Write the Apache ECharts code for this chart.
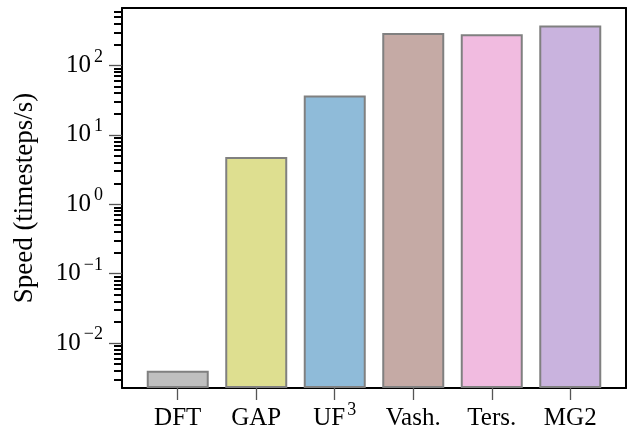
<!DOCTYPE html>
<html><head><meta charset="utf-8">
<script src="https://cdn.jsdelivr.net/npm/echarts@6/dist/echarts.min.js"></script>
<style>html,body{margin:0;padding:0;background:#fff}#c{width:628px;height:431px}</style>
</head><body><div id="c"></div>
<script>
const categories = ['DFT', 'GAP', 'UF3', 'Vash.', 'Ters.', 'MG2'];
const speeds = [0.004, 4.8, 37, 292, 282, 376];
const barColors = ['#bfbfbf', '#dedf90', '#8fbbd9', '#c5aaa5', '#f1bbe0', '#c9b3de'];
const majorTicks = [0.01, 0.1, 1, 10, 100];
const yMin = 0.00225, yMax = 672;
const minorTicks = [];
for (let d = -3; d <= 2; d++) for (let m = 2; m <= 9; m++) {
  const v = m * Math.pow(10, d);
  if (v > yMin && v < yMax) minorTicks.push(v);
}
const catIdx = categories.map((c, i) => i);
const F = "'Liberation Serif', 'Times New Roman', serif";

const chart = echarts.init(document.getElementById('c'), null, {renderer: 'canvas'});
const spine = {show: true, onZero: false, lineStyle: {color: '#000', width: 2}};
chart.setOption({
  animation: false,
  textStyle: {fontFamily: F},
  grid: {left: 122, right: 2, top: 8, bottom: 43, containLabel: false, outerBoundsMode: 'none'},
  xAxis: [{
    type: 'value', min: -0.71, max: 5.71, position: 'bottom',
    axisLine: spine, splitLine: {show: false},
    axisTick: {show: true, customValues: catIdx, length: 12, lineStyle: {color: '#555', width: 1.3}},
    axisLabel: {show: true, customValues: catIdx, margin: 9, fontFamily: F,
      formatter: v => { const c = categories[Math.round(v)]; return c === 'UF3' ? '{b|UF}{s|3}' : '{b|' + c + '}'; },
      rich: {b: {fontFamily: F, fontSize: 25, color: '#000', verticalAlign: 'middle', lineHeight: 43},
             s: {fontFamily: F, fontSize: 18, color: '#000', verticalAlign: 'middle', lineHeight: 26, padding: [0, 0, 17, 2]}}}
  }, {
    type: 'value', min: -0.71, max: 5.71, position: 'top',
    axisLine: spine, axisTick: {show: false}, axisLabel: {show: false}, splitLine: {show: false}
  }],
  yAxis: [{
    type: 'log', logBase: 10, min: yMin, max: yMax, position: 'left', startValue: yMin,
    axisLine: spine, splitLine: {show: false}, minorTick: {show: false},
    axisTick: {show: true, customValues: majorTicks, length: 13, lineStyle: {color: '#555', width: 1.3}},
    axisLabel: {show: true, customValues: majorTicks, margin: 19, fontFamily: F,
      formatter: v => { const e = Math.round(Math.log10(v)); return '{b|10}{s|' + (e < 0 ? '\u2212' + (-e) : e) + '}'; },
      rich: {b: {fontFamily: F, fontSize: 25, color: '#000', verticalAlign: 'middle', lineHeight: 26},
             s: {fontFamily: F, fontSize: 18, color: '#000', verticalAlign: 'middle', lineHeight: 26, padding: [0, 0, 17, 3]}}},
    name: 'Speed (timesteps/s)', nameLocation: 'middle', nameGap: 84,
    nameTextStyle: {fontFamily: F, fontSize: 27, color: '#000'}
  }, {
    type: 'log', logBase: 10, min: yMin, max: yMax, position: 'right',
    axisLine: spine, axisTick: {show: false}, axisLabel: {show: false}, splitLine: {show: false}
  }, {
    type: 'log', logBase: 10, min: yMin, max: yMax, position: 'left', offset: 0,
    axisLine: {show: false, onZero: false}, axisLabel: {show: false}, splitLine: {show: false},
    axisTick: {show: true, customValues: minorTicks, length: 8, lineStyle: {color: '#000', width: 2}}
  }],
  series: [{
    type: 'bar', xAxisIndex: 0, yAxisIndex: 0, barWidth: 62,
    data: speeds.map((v, i) => ({value: [i, v], itemStyle: {color: barColors[i]}})),
    itemStyle: {borderColor: '#808080', borderWidth: 2}
  }]
});
</script></body></html>
